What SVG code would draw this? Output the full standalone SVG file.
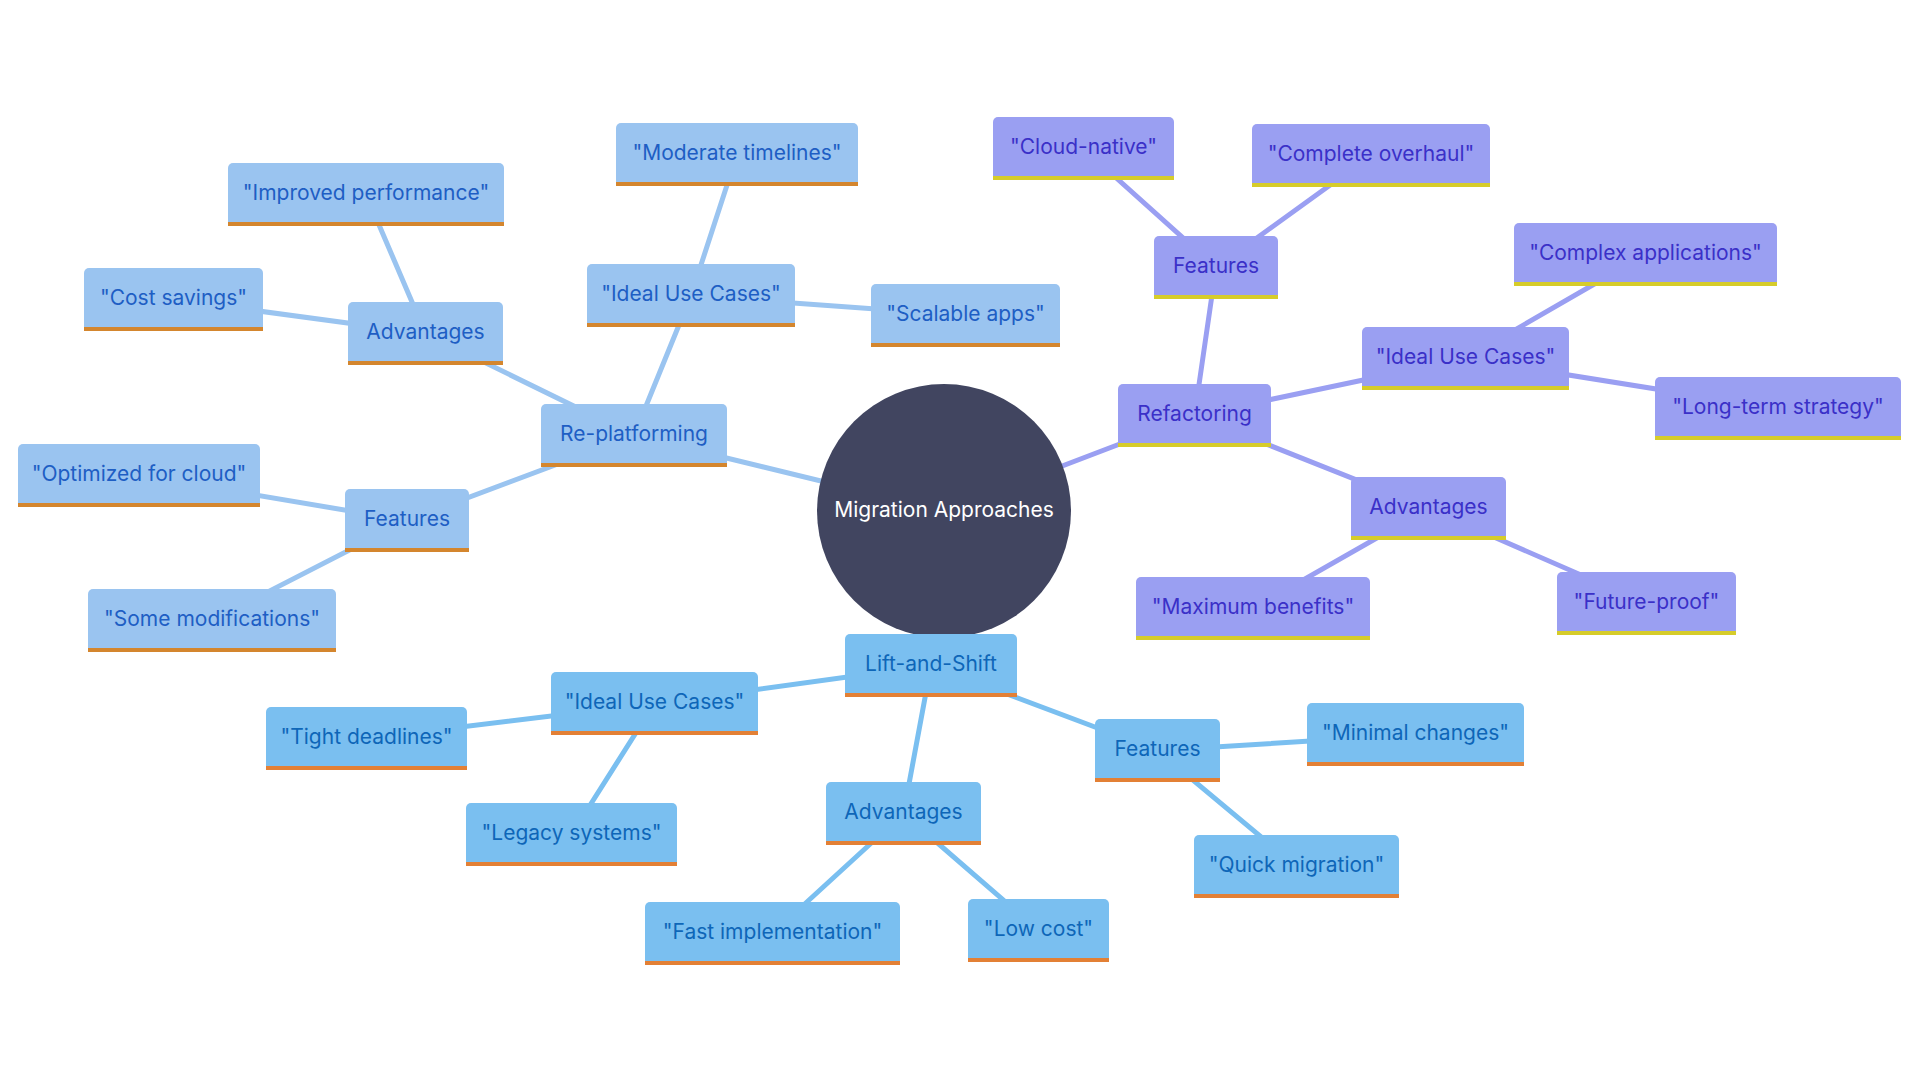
<svg xmlns="http://www.w3.org/2000/svg" width="1920" height="1080" viewBox="0 0 1920 1080">
<style>
text{font-family:Inter,"Noto Sans","Liberation Sans",sans-serif;font-size:21px;text-anchor:middle}
.e{fill:none;stroke-width:5;stroke-linecap:round}
.erp{stroke:#9ac4f0}.erf{stroke:#9a9ff2}.els{stroke:#7abff0}
.rp .f{fill:#9ac4f0}.rp .b{fill:#d4862e}.rp text{fill:#1e5ec4}
.rf .f{fill:#9a9ff2}.rf .b{fill:#d6cc2a}.rf text{fill:#3a30c8}
.ls .f{fill:#7abff0}.ls .b{fill:#e38035}.ls text{fill:#0e66b8}
</style>
<rect width="1920" height="1080" fill="#ffffff"/>
<g id="connectors">
<path class="e erp" d="M944,511L634,435.5M634,435.5L691,295.5M691,295.5L737,154.5M691,295.5L965.5,315.5M634,435.5L425.5,333.5M425.5,333.5L366,194.5M425.5,333.5L173.5,299.5M634,435.5L407,520.5M407,520.5L139,475.5M407,520.5L212,620.5"/>
<path class="e erf" d="M944,511L1194.5,415.5M1194.5,415.5L1216,267.5M1216,267.5L1083.5,148.5M1216,267.5L1371,155.5M1194.5,415.5L1465.5,358.5M1465.5,358.5L1645.5,254.5M1465.5,358.5L1778,408.5M1194.5,415.5L1428.5,508.5M1428.5,508.5L1253,608.5M1428.5,508.5L1646.5,603.5"/>
<path class="e els" d="M944,511L931,665.5M931,665.5L654.5,703.5M654.5,703.5L366.5,738.5M654.5,703.5L571.5,834.5M931,665.5L903.5,813.5M903.5,813.5L772.5,933.5M903.5,813.5L1038.5,930.5M931,665.5L1157.5,750.5M1157.5,750.5L1415.5,734.5M1157.5,750.5L1296.5,866.5"/>
</g>
<g id="root">
<circle cx="944" cy="511" r="127" fill="#414560"/>
<text x="944" y="517" fill="#ffffff">Migration Approaches</text>
</g>
<!-- Re-platforming -->
<g id="replatforming" class="rp" transform="translate(541,404)"><path class="f" d="M0,59V5a5,5 0 0 1 5,-5H181a5,5 0 0 1 5,5V59Z"/><rect class="b" y="59" width="186" height="4"/><text x="93" y="37">Re-platforming</text></g>
<g id="rp-ideal" class="rp" transform="translate(587,264)"><path class="f" d="M0,59V5a5,5 0 0 1 5,-5H203a5,5 0 0 1 5,5V59Z"/><rect class="b" y="59" width="208" height="4"/><text x="104" y="37">"Ideal Use Cases"</text></g>
<g id="rp-moderate" class="rp" transform="translate(616,123)"><path class="f" d="M0,59V5a5,5 0 0 1 5,-5H237a5,5 0 0 1 5,5V59Z"/><rect class="b" y="59" width="242" height="4"/><text x="121" y="37">"Moderate timelines"</text></g>
<g id="rp-scalable" class="rp" transform="translate(871,284)"><path class="f" d="M0,59V5a5,5 0 0 1 5,-5H184a5,5 0 0 1 5,5V59Z"/><rect class="b" y="59" width="189" height="4"/><text x="94.5" y="37">"Scalable apps"</text></g>
<g id="rp-advantages" class="rp" transform="translate(348,302)"><path class="f" d="M0,59V5a5,5 0 0 1 5,-5H150a5,5 0 0 1 5,5V59Z"/><rect class="b" y="59" width="155" height="4"/><text x="77.5" y="37">Advantages</text></g>
<g id="rp-improved" class="rp" transform="translate(228,163)"><path class="f" d="M0,59V5a5,5 0 0 1 5,-5H271a5,5 0 0 1 5,5V59Z"/><rect class="b" y="59" width="276" height="4"/><text x="138" y="37">"Improved performance"</text></g>
<g id="rp-cost" class="rp" transform="translate(84,268)"><path class="f" d="M0,59V5a5,5 0 0 1 5,-5H174a5,5 0 0 1 5,5V59Z"/><rect class="b" y="59" width="179" height="4"/><text x="89.5" y="37">"Cost savings"</text></g>
<g id="rp-features" class="rp" transform="translate(345,489)"><path class="f" d="M0,59V5a5,5 0 0 1 5,-5H119a5,5 0 0 1 5,5V59Z"/><rect class="b" y="59" width="124" height="4"/><text x="62" y="37">Features</text></g>
<g id="rp-optimized" class="rp" transform="translate(18,444)"><path class="f" d="M0,59V5a5,5 0 0 1 5,-5H237a5,5 0 0 1 5,5V59Z"/><rect class="b" y="59" width="242" height="4"/><text x="121" y="37">"Optimized for cloud"</text></g>
<g id="rp-some" class="rp" transform="translate(88,589)"><path class="f" d="M0,59V5a5,5 0 0 1 5,-5H243a5,5 0 0 1 5,5V59Z"/><rect class="b" y="59" width="248" height="4"/><text x="124" y="37">"Some modifications"</text></g>
<!-- Refactoring -->
<g id="refactoring" class="rf" transform="translate(1118,384)"><path class="f" d="M0,59V5a5,5 0 0 1 5,-5H148a5,5 0 0 1 5,5V59Z"/><rect class="b" y="59" width="153" height="4"/><text x="76.5" y="37">Refactoring</text></g>
<g id="rf-features" class="rf" transform="translate(1154,236)"><path class="f" d="M0,59V5a5,5 0 0 1 5,-5H119a5,5 0 0 1 5,5V59Z"/><rect class="b" y="59" width="124" height="4"/><text x="62" y="37">Features</text></g>
<g id="rf-cloud" class="rf" transform="translate(993,117)"><path class="f" d="M0,59V5a5,5 0 0 1 5,-5H176a5,5 0 0 1 5,5V59Z"/><rect class="b" y="59" width="181" height="4"/><text x="90.5" y="37">"Cloud-native"</text></g>
<g id="rf-complete" class="rf" transform="translate(1252,124)"><path class="f" d="M0,59V5a5,5 0 0 1 5,-5H233a5,5 0 0 1 5,5V59Z"/><rect class="b" y="59" width="238" height="4"/><text x="119" y="37">"Complete overhaul"</text></g>
<g id="rf-ideal" class="rf" transform="translate(1362,327)"><path class="f" d="M0,59V5a5,5 0 0 1 5,-5H202a5,5 0 0 1 5,5V59Z"/><rect class="b" y="59" width="207" height="4"/><text x="103.5" y="37">"Ideal Use Cases"</text></g>
<g id="rf-complex" class="rf" transform="translate(1514,223)"><path class="f" d="M0,59V5a5,5 0 0 1 5,-5H258a5,5 0 0 1 5,5V59Z"/><rect class="b" y="59" width="263" height="4"/><text x="131.5" y="37">"Complex applications"</text></g>
<g id="rf-longterm" class="rf" transform="translate(1655,377)"><path class="f" d="M0,59V5a5,5 0 0 1 5,-5H241a5,5 0 0 1 5,5V59Z"/><rect class="b" y="59" width="246" height="4"/><text x="123" y="37">"Long-term strategy"</text></g>
<g id="rf-advantages" class="rf" transform="translate(1351,477)"><path class="f" d="M0,59V5a5,5 0 0 1 5,-5H150a5,5 0 0 1 5,5V59Z"/><rect class="b" y="59" width="155" height="4"/><text x="77.5" y="37">Advantages</text></g>
<g id="rf-maximum" class="rf" transform="translate(1136,577)"><path class="f" d="M0,59V5a5,5 0 0 1 5,-5H229a5,5 0 0 1 5,5V59Z"/><rect class="b" y="59" width="234" height="4"/><text x="117" y="37">"Maximum benefits"</text></g>
<g id="rf-future" class="rf" transform="translate(1557,572)"><path class="f" d="M0,59V5a5,5 0 0 1 5,-5H174a5,5 0 0 1 5,5V59Z"/><rect class="b" y="59" width="179" height="4"/><text x="89.5" y="37">"Future-proof"</text></g>
<!-- Lift-and-Shift -->
<g id="liftshift" class="ls" transform="translate(845,634)"><path class="f" d="M0,59V5a5,5 0 0 1 5,-5H167a5,5 0 0 1 5,5V59Z"/><rect class="b" y="59" width="172" height="4"/><text x="86" y="37">Lift-and-Shift</text></g>
<g id="ls-ideal" class="ls" transform="translate(551,672)"><path class="f" d="M0,59V5a5,5 0 0 1 5,-5H202a5,5 0 0 1 5,5V59Z"/><rect class="b" y="59" width="207" height="4"/><text x="103.5" y="37">"Ideal Use Cases"</text></g>
<g id="ls-tight" class="ls" transform="translate(266,707)"><path class="f" d="M0,59V5a5,5 0 0 1 5,-5H196a5,5 0 0 1 5,5V59Z"/><rect class="b" y="59" width="201" height="4"/><text x="100.5" y="37">"Tight deadlines"</text></g>
<g id="ls-legacy" class="ls" transform="translate(466,803)"><path class="f" d="M0,59V5a5,5 0 0 1 5,-5H206a5,5 0 0 1 5,5V59Z"/><rect class="b" y="59" width="211" height="4"/><text x="105.5" y="37">"Legacy systems"</text></g>
<g id="ls-advantages" class="ls" transform="translate(826,782)"><path class="f" d="M0,59V5a5,5 0 0 1 5,-5H150a5,5 0 0 1 5,5V59Z"/><rect class="b" y="59" width="155" height="4"/><text x="77.5" y="37">Advantages</text></g>
<g id="ls-fast" class="ls" transform="translate(645,902)"><path class="f" d="M0,59V5a5,5 0 0 1 5,-5H250a5,5 0 0 1 5,5V59Z"/><rect class="b" y="59" width="255" height="4"/><text x="127.5" y="37">"Fast implementation"</text></g>
<g id="ls-lowcost" class="ls" transform="translate(968,899)"><path class="f" d="M0,59V5a5,5 0 0 1 5,-5H136a5,5 0 0 1 5,5V59Z"/><rect class="b" y="59" width="141" height="4"/><text x="70.5" y="37">"Low cost"</text></g>
<g id="ls-features" class="ls" transform="translate(1095,719)"><path class="f" d="M0,59V5a5,5 0 0 1 5,-5H120a5,5 0 0 1 5,5V59Z"/><rect class="b" y="59" width="125" height="4"/><text x="62.5" y="37">Features</text></g>
<g id="ls-minimal" class="ls" transform="translate(1307,703)"><path class="f" d="M0,59V5a5,5 0 0 1 5,-5H212a5,5 0 0 1 5,5V59Z"/><rect class="b" y="59" width="217" height="4"/><text x="108.5" y="37">"Minimal changes"</text></g>
<g id="ls-quick" class="ls" transform="translate(1194,835)"><path class="f" d="M0,59V5a5,5 0 0 1 5,-5H200a5,5 0 0 1 5,5V59Z"/><rect class="b" y="59" width="205" height="4"/><text x="102.5" y="37">"Quick migration"</text></g>
</svg>
